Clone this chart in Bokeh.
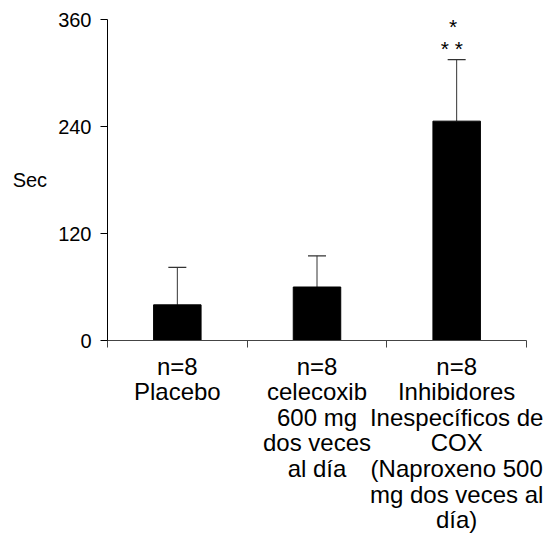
from bokeh.plotting import figure
from bokeh.models import FixedTicker, ColumnDataSource, Whisker, TeeHead, Range1d
from bokeh.core.properties import value
from bokeh.embed import file_html
from bokeh.resources import INLINE

categories = ["n=8\nPlacebo",
              "n=8\ncelecoxib\n600 mg\ndos veces\nal día",
              "n=8\nInhibidores\nInespecíficos de\nCOX\n(Naproxeno 500\nmg dos veces al\ndía)"]
means = [40, 60, 246]
errors = [42, 35, 69]
y_ticks = [0, 120, 240, 360]
star_labels = ["* *", "*"]

FONT = "Liberation Sans"

xs = [i + 0.5 for i in range(len(categories))]
uppers = [m + e for m, e in zip(means, errors)]

p = figure(width=545, height=543, output_backend="svg", toolbar_location=None,
           x_range=Range1d(0, 3), y_range=Range1d(0, 360))
p.min_border_left = 107
p.min_border_right = 19
p.min_border_top = 19
p.min_border_bottom = 203
p.outline_line_color = None
p.xgrid.visible = False
p.ygrid.visible = False
p.background_fill_color = "white"
p.border_fill_color = "white"

src = ColumnDataSource(dict(x=xs, top=means, upper=uppers))
p.vbar(x="x", top="top", bottom=0, width=0.34, source=src,
       fill_color="black", line_color="black")

w = Whisker(base="x", upper="upper", lower="top", source=src,
            line_color="#333333", line_width=1,
            upper_head=TeeHead(size=18, line_color="#333333", line_width=1.2),
            lower_head=None)
p.add_layout(w)

# significance asterisks above the third bar
p.text(x=[xs[2] - 0.035, xs[2] - 0.025], y=[uppers[2] + 13, uppers[2] + 37],
       text=star_labels, text_font=value(FONT), text_font_size="21px",
       text_align="center", text_baseline="middle", text_color="black")

# y axis
p.yaxis.ticker = FixedTicker(ticks=y_ticks)
p.yaxis.axis_line_color = "black"
p.yaxis.major_tick_line_color = "black"
p.yaxis.major_tick_in = 0
p.yaxis.major_tick_out = 7
p.yaxis.minor_tick_line_color = None
p.yaxis.major_label_text_font = FONT
p.yaxis.major_label_text_font_size = "20px"
p.yaxis.major_label_text_color = "black"
p.yaxis.major_label_standoff = 9
p.yaxis.axis_label = "Sec"
p.yaxis.axis_label_orientation = "horizontal"
p.yaxis.axis_label_text_font = FONT
p.yaxis.axis_label_text_font_size = "20px"
p.yaxis.axis_label_text_font_style = "normal"
p.yaxis.axis_label_text_color = "black"
p.yaxis.axis_label_standoff = 8

# x axis
p.xaxis.ticker = FixedTicker(ticks=xs, minor_ticks=[0, 1, 2, 3])
p.xaxis.major_label_overrides = {x: c for x, c in zip(xs, categories)}
p.xaxis.axis_line_color = "#444444"
p.xaxis.major_tick_line_color = None
p.xaxis.minor_tick_line_color = "#444444"
p.xaxis.minor_tick_in = 0
p.xaxis.minor_tick_out = 7
p.xaxis.major_label_text_font = FONT
p.xaxis.major_label_text_font_size = "24px"
p.xaxis.major_label_text_color = "black"
p.xaxis.major_label_text_line_height = 0.95
p.xaxis.major_label_standoff = 5

open("out.html", "w").write(file_html(p, INLINE))
